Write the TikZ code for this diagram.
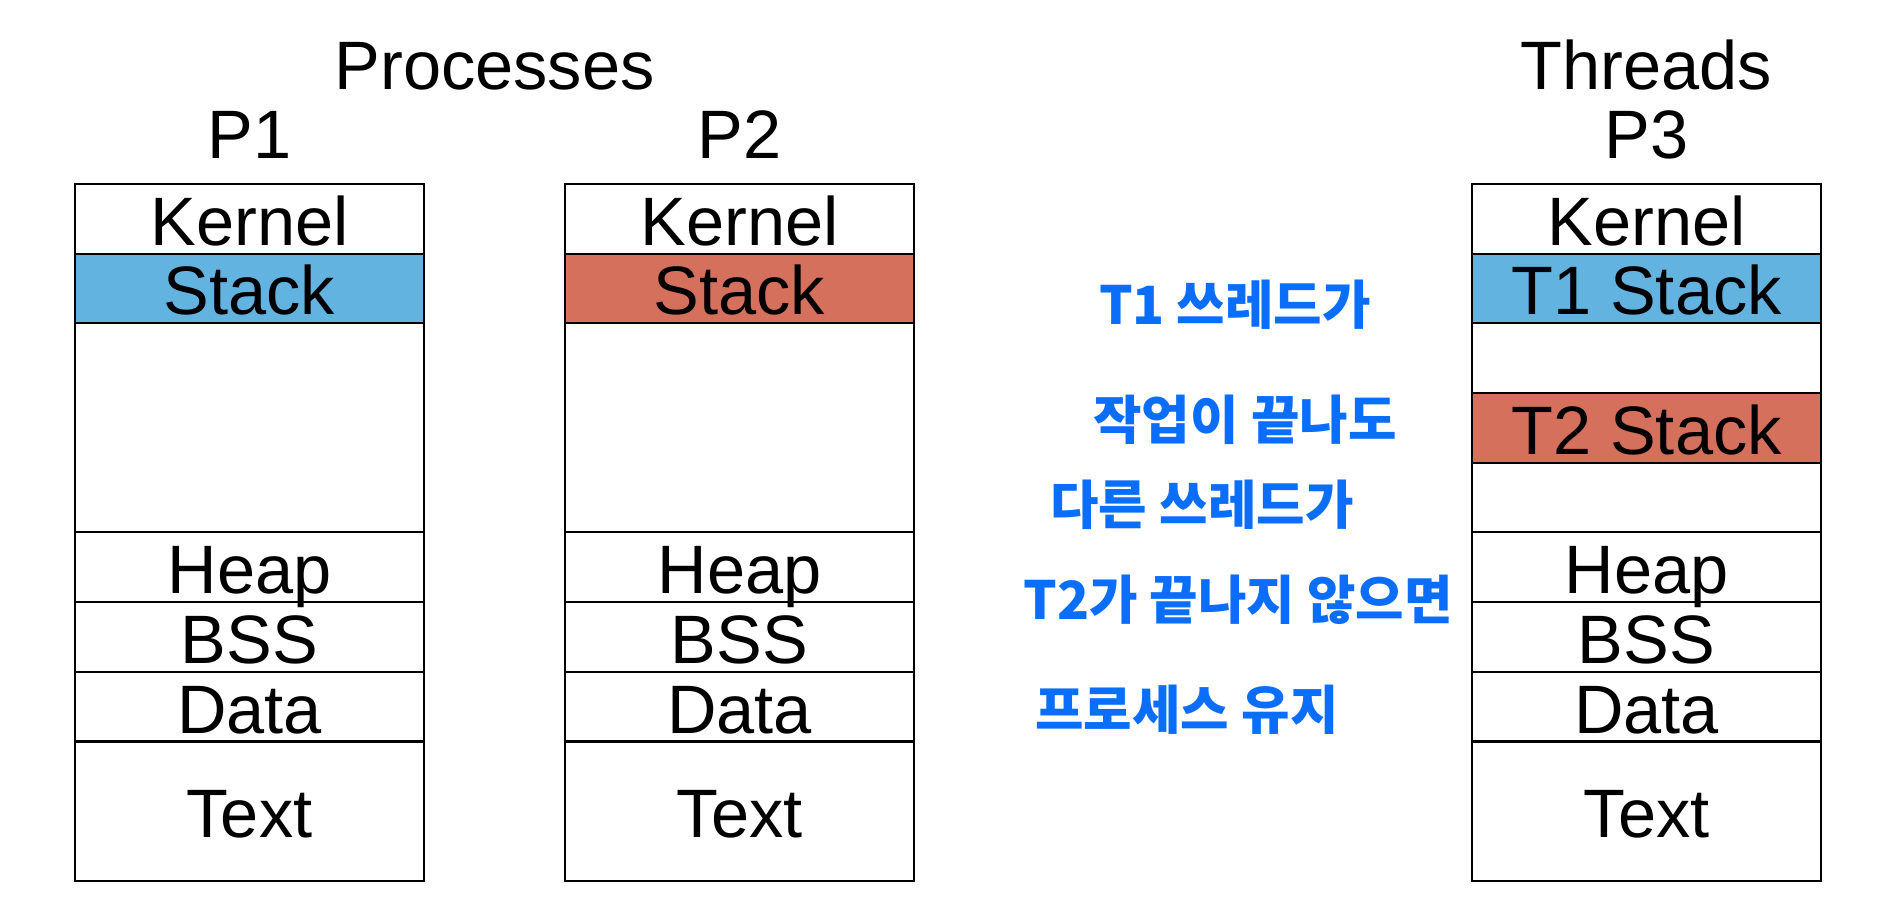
\documentclass[tikz,border=0pt]{standalone}
\usepackage{fontspec}
\setmainfont{Liberation Sans}
\newfontfamily\hangul{Noto Sans CJK KR}
\usepackage{xcolor}
\usetikzlibrary{positioning}

\definecolor{stackblue}{RGB}{99,179,224}
\definecolor{stackred}{RGB}{213,112,92}
\definecolor{penblue}{RGB}{10,110,250}

\begin{document}
\begin{tikzpicture}[x=0.02cm,y=-0.02cm,
	seg/.style={draw,line width=1.2pt,outer sep=0pt,inner sep=0pt,
		minimum width=6.98cm,minimum height=1.394cm,
		text height=30pt,text depth=0pt,font=\fontsize{39}{47}\selectfont},
	gap/.style={seg,minimum height=4.182cm},
	gapone/.style={seg,minimum height=1.394cm},
	textseg/.style={seg,minimum height=2.788cm},
	title/.style={anchor=base,inner sep=0pt,font=\fontsize{39}{47}\selectfont},
	note/.style={text=penblue,inner sep=0pt,font=\hangul\bfseries\fontsize{30}{36}\selectfont}]
	\useasboundingbox (0,0) rectangle (1886,918);
	% titles
	\node[title] (proc) at (494.5,90) {Processes};
	\node[title] (thr) at (1646.5,90) {Threads};
	\node[title] (p1) at (249.5,159) {P1};
	\node[title] (p2) at (739.5,159) {P2};
	\node[title] (p3) at (1646.5,159) {P3};
	% P1
	\node[seg] at (249.5,218.85) (k1) {Kernel};
	\node[seg,fill=stackblue,below=0pt of k1] (s1) {Stack};
	\node[gap,below=0pt of s1] (e1) {};
	\node[seg,below=0pt of e1] (h1) {Heap};
	\node[seg,below=0pt of h1] (b1) {BSS};
	\node[seg,below=0pt of b1] (d1) {Data};
	\node[textseg,below=0pt of d1] (t1) {Text};
	% P2
	\node[seg] at (739.5,218.85) (k2) {Kernel};
	\node[seg,fill=stackred,below=0pt of k2] (s2) {Stack};
	\node[gap,below=0pt of s2] (e2) {};
	\node[seg,below=0pt of e2] (h2) {Heap};
	\node[seg,below=0pt of h2] (b2) {BSS};
	\node[seg,below=0pt of b2] (d2) {Data};
	\node[textseg,below=0pt of d2] (t2) {Text};
	% P3 (threads)
	\node[seg] at (1646.5,218.85) (k3) {Kernel};
	\node[seg,fill=stackblue,below=0pt of k3] (s31) {T1 Stack};
	\node[gapone,below=0pt of s31] (e31) {};
	\node[seg,fill=stackred,below=0pt of e31] (s32) {T2 Stack};
	\node[gapone,below=0pt of s32] (e32) {};
	\node[seg,below=0pt of e32] (h3) {Heap};
	\node[seg,below=0pt of h3] (b3) {BSS};
	\node[seg,below=0pt of b3] (d3) {Data};
	\node[textseg,below=0pt of d3] (t3) {Text};
	% handwritten note
	\node[note] at (1235,305) (n1) {T1 쓰레드가};
	\node[note] at (1245,420) (n2) {작업이 끝나도};
	\node[note] at (1202,505) (n3) {다른 쓰레드가};
	\node[note] at (1238,600) (n4) {T2가 끝나지 않으면};
	\node[note] at (1187,710) (n5) {프로세스 유지};
\end{tikzpicture}
\end{document}
